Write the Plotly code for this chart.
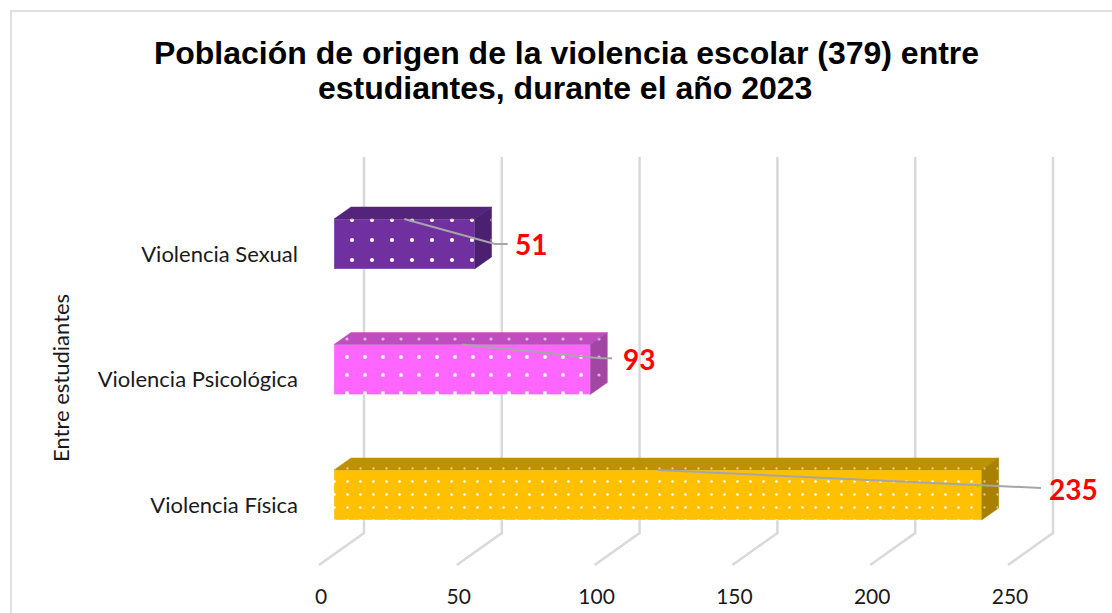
import plotly.graph_objects as go

categories = ["Violencia Física", "Violencia Psicológica", "Violencia Sexual"]
values = [235, 93, 51]
x_ticks = [0, 50, 100, 150, 200, 250]
title_line_1 = "Población de origen de la violencia escolar (379) entre"
title_line_2 = "estudiantes, durante el año 2023"
y_title = "Entre estudiantes"

front_colors = ["#FFC000", "#FF66FF", "#7030A0"]
top_colors = ["#BF9000", "#BF4DBF", "#54247A"]
side_colors = ["#A98000", "#A346A3", "#4B2070"]
pattern_sizes = [13, 18, 20]
leader_end = [256.5, 100.9, 63]
leader_bend = [252.5, 96.6, 58.4]
leader_y = [0.056, 1.09, 2.0]
label_x = [268.5, 110.7, 71.5]
label_y = [0.05, 1.08, 2.0]
labels_font = "Lato, Carlito, sans-serif"
title_font = "Liberation Sans, Arial, sans-serif"

W, H = 1112, 613
PX_X, PX_Y = 2.756, 125.5
L, R, T, B = 302, 1100, 150, 582
X0, Y0 = 334, 495
bar_w = 50 / PX_Y
dx, dy = 17 / PX_X, 12 / PX_Y

xr = [(L - X0) / PX_X, (R - X0) / PX_X]
yr = [(Y0 - B) / PX_Y, (Y0 - T) / PX_Y]
dom_x = [L / W, R / W]
dom_y = [1 - B / H, 1 - T / H]

fig = go.Figure()
idx = list(range(len(categories)))

for i, v in zip(idx, values):
    fig.add_trace(go.Bar(
        y=[i], x=[v], orientation="h", width=bar_w, hoverinfo="skip",
        marker=dict(color=front_colors[i], line=dict(color="rgba(255,255,255,0.35)", width=1),
                    pattern=dict(shape=".", fgcolor="#FFFFFF", fgopacity=1, bgcolor=front_colors[i],
                                 size=pattern_sizes[i], solidity=0.035, fillmode="replace")),
    ))

for i, v in zip(idx, values):
    t, b = i + bar_w / 2, i - bar_w / 2
    for xs, ys, col, sz in [
        ([0, v, v + dx, dx, 0], [t, t, t + dy, t + dy, t], top_colors[i], pattern_sizes[i]),
        ([v, v + dx, v + dx, v, v], [t, t + dy, b + dy, b, t], side_colors[i], pattern_sizes[i]),
    ]:
        fig.add_trace(go.Scatter(
            x=xs, y=ys, mode="lines", fill="toself", fillcolor=col,
            line=dict(color=col, width=0.5), hoverinfo="skip",
            fillpattern=dict(shape=".", fgcolor="#FFFFFF", fgopacity=0.6, bgcolor=col,
                             size=sz, solidity=0.025, fillmode="replace"),
        ))
    # leader line from mid-bar to the value label
    fig.add_trace(go.Scatter(
        x=[v / 2, leader_bend[i], leader_end[i]], y=[t, leader_y[i], leader_y[i]], mode="lines",
        line=dict(color="#A6A6A6", width=2), hoverinfo="skip",
    ))

# invisible trace so the label axes (x2, y2) are drawn
fig.add_trace(go.Scatter(x=x_ticks[:3], y=idx, xaxis="x2", yaxis="y2", mode="markers",
                         marker=dict(opacity=0), hoverinfo="skip"))

shapes = [dict(type="rect", xref="paper", yref="paper", x0=11 / W, x1=1.05, y0=-0.05, y1=1 - 11 / H,
               line=dict(color="#E0E0E0", width=2), layer="below")]
back_dx, back_top, back_bot = 30 / PX_X, (Y0 - 157) / PX_Y, (Y0 - 533) / PX_Y
front_dx, front_bot = -15 / PX_X, (Y0 - 565) / PX_Y
for tk in x_ticks:
    shapes.append(dict(type="path", xref="x", yref="y", layer="below",
                       path=f"M {tk + back_dx} {back_top} L {tk + back_dx} {back_bot} L {tk + front_dx} {front_bot}",
                       line=dict(color="#D9D9D9", width=2.5)))

annotations = [dict(x=label_x[i], y=label_y[i], xref="x", yref="y", text=f"<b>{values[i]}</b>",
                    showarrow=False, xanchor="center", yanchor="middle",
                    font=dict(family=labels_font, size=28, color="#FF0000")) for i in idx]
annotations.append(dict(x=61 / W, y=1 - 378 / H, xref="paper", yref="paper", text=y_title, textangle=-90,
                        showarrow=False, xanchor="center", yanchor="middle",
                        font=dict(family=labels_font, size=22, color="#1a1a1a")))
annotations.append(dict(x=565 / W, y=1 - 88 / H, xref="paper", yref="paper", text=f"<b>{title_line_2}</b>",
                        showarrow=False, xanchor="center", yanchor="middle",
                        font=dict(family=title_font, size=32, color="black")))

fig.update_layout(
    width=W, height=H, margin=dict(l=0, r=0, t=0, b=0), showlegend=False, barmode="overlay",
    paper_bgcolor="white", plot_bgcolor="rgba(0,0,0,0)",
    title=dict(text=f"<b>{title_line_1}</b>", x=566.5 / W, xanchor="center", y=1 - 53 / H, yanchor="middle",
               font=dict(family=title_font, size=32, color="black")),
    shapes=shapes, annotations=annotations,
    xaxis=dict(domain=dom_x, range=xr, showgrid=False, zeroline=False, showticklabels=False, ticks="", showline=False),
    yaxis=dict(domain=dom_y, range=yr, showgrid=False, zeroline=False, showticklabels=False, ticks="", showline=False),
    xaxis2=dict(domain=dom_x, overlaying="x", anchor="y2", range=[(L - 321) / PX_X, (R - 321) / PX_X],
                tickvals=x_ticks, showgrid=False, zeroline=False, showline=False, ticks="",
                side="bottom", tickfont=dict(family=labels_font, size=21, color="#1a1a1a")),
    yaxis2=dict(domain=dom_y, overlaying="y", anchor="x2", range=[(Y0 + 10 - B) / PX_Y, (Y0 + 10 - T) / PX_Y],
                tickvals=idx, ticktext=categories, showgrid=False, zeroline=False, showline=False,
                ticks="", side="left", ticklabelstandoff=3,
                tickfont=dict(family=labels_font, size=22, color="#1a1a1a")),
)

fig.write_html("out.html", config={"displayModeBar": False}, post_script="document.body.style.margin='0';")
